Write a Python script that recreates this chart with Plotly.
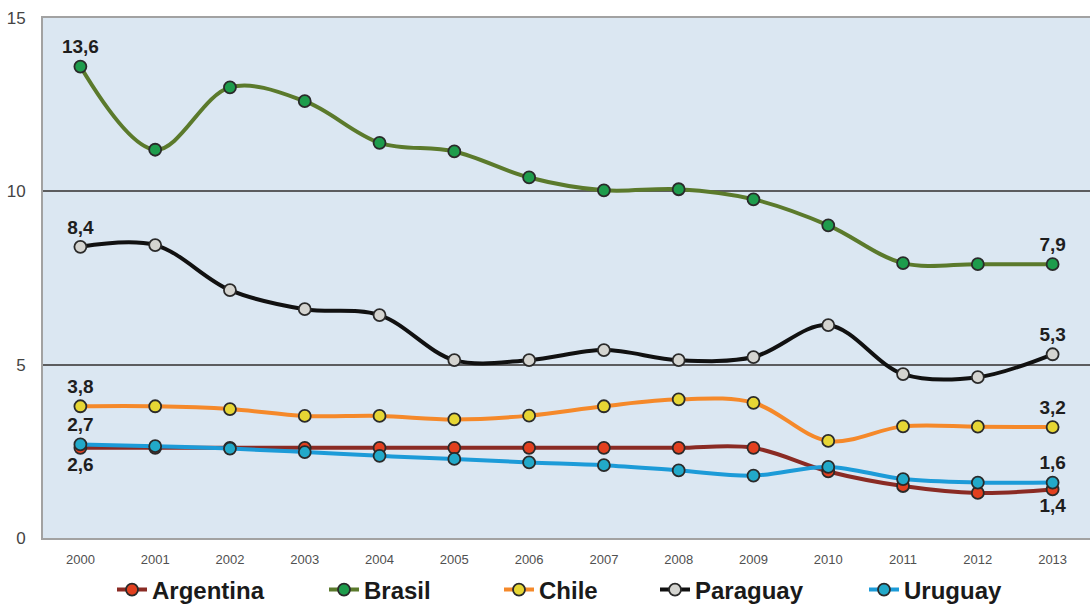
import plotly.graph_objects as go

years = [2000, 2001, 2002, 2003, 2004, 2005, 2006, 2007, 2008, 2009, 2010, 2011, 2012, 2013]
argentina = [2.6, 2.6, 2.6, 2.6, 2.6, 2.6, 2.6, 2.6, 2.6, 2.6, 1.92, 1.5, 1.3, 1.4]
brasil = [13.6, 11.2, 13.0, 12.6, 11.4, 11.15, 10.4, 10.03, 10.06, 9.77, 9.02, 7.93, 7.9, 7.9]
chile = [3.8, 3.8, 3.72, 3.52, 3.52, 3.42, 3.53, 3.8, 4.0, 3.9, 2.8, 3.22, 3.21, 3.2]
paraguay = [8.4, 8.45, 7.15, 6.6, 6.43, 5.13, 5.13, 5.42, 5.13, 5.22, 6.14, 4.73, 4.64, 5.3]
uruguay = [2.7, 2.65, 2.58, 2.48, 2.37, 2.28, 2.18, 2.1, 1.95, 1.8, 2.05, 1.7, 1.6, 1.6]

names = ["Argentina", "Brasil", "Chile", "Paraguay", "Uruguay"]
series = [argentina, brasil, chile, paraguay, uruguay]
line_colors = ["#8a2b24", "#5b7a2c", "#f5892a", "#111111", "#1c9bd8"]
marker_colors = ["#e2401f", "#1e9c4c", "#e6d634", "#d4d4d0", "#22a9c9"]
first_pos = ["bottom center", "top center", "top center", "top center", "top center"]
last_pos = ["bottom center", "top center", "top center", "top center", "top center"]
legend_x_px = [112, 324, 499, 655, 864]

def fmt(v):
    return ("%.1f" % v).replace(".", ",")

plot_left, plot_right = 43, 1090
plot_top, plot_bottom = 18, 538

fig = go.Figure()
for i, (name, vals) in enumerate(zip(names, series)):
    texts = [""] * len(vals)
    pos = ["top center"] * len(vals)
    texts[0] = fmt(vals[0])
    pos[0] = first_pos[i]
    texts[-1] = fmt(vals[-1])
    pos[-1] = last_pos[i]
    lg = "legend" if i == 0 else "legend%d" % (i + 1)
    fig.add_trace(go.Scatter(
        x=years, y=vals, name=name, mode="lines+markers+text",
        line=dict(color=line_colors[i], width=4, shape="spline", smoothing=1),
        marker=dict(size=12, color=marker_colors[i], line=dict(color="#2a2a2a", width=1.8)),
        text=texts, textposition=pos,
        textfont=dict(family="Liberation Sans, Arial, sans-serif", size=19, color="#1e1e1e", weight="bold"),
        legend=lg, cliponaxis=False, hoverinfo="skip",
    ))

layout_legends = {}
legend_y = (plot_bottom - 590) / (plot_bottom - plot_top)
for i in range(5):
    key = "legend" if i == 0 else "legend%d" % (i + 1)
    layout_legends[key] = dict(
        x=(legend_x_px[i] - plot_left) / (plot_right - plot_left), xanchor="left",
        y=legend_y, yanchor="middle", orientation="h",
        font=dict(family="Liberation Sans, Arial, sans-serif", size=24, color="#1a1a1a", weight="bold"),
        bgcolor="rgba(0,0,0,0)", itemwidth=30, tracegroupgap=0,
    )

fig.update_layout(
    width=1090, height=604,
    margin=dict(l=plot_left, r=1090 - plot_right, t=plot_top, b=604 - plot_bottom, autoexpand=False),
    paper_bgcolor="white", plot_bgcolor="#dbe7f2",
    showlegend=True, hovermode=False,
    **layout_legends,
    xaxis=dict(range=[1999.5, 2013.5], tickmode="array", tickvals=years,
               ticktext=[str(y) for y in years], showgrid=False, zeroline=False,
               tickfont=dict(family="Liberation Sans, Arial, sans-serif", size=13, color="#505050"),
               showline=True, linecolor="#a2a2a2", linewidth=2, mirror=True, ticks="",
               ticklabelstandoff=8, automargin=False),
    yaxis=dict(range=[0, 15], tickvals=[0, 5, 10, 15], ticktext=["0", "5", "10", "15"],
               showgrid=True, gridcolor="#5c5d5f", gridwidth=2, zeroline=False,
               tickfont=dict(family="Liberation Sans, Arial, sans-serif", size=17, color="#444444"),
               showline=True, linecolor="#a2a2a2", linewidth=2, mirror=True, ticks="",
               ticklabelstandoff=12, automargin=False),
)

fig.write_html("out.html", config={"displayModeBar": False},
               post_script="document.body.style.margin='0';document.body.style.padding='0';")
